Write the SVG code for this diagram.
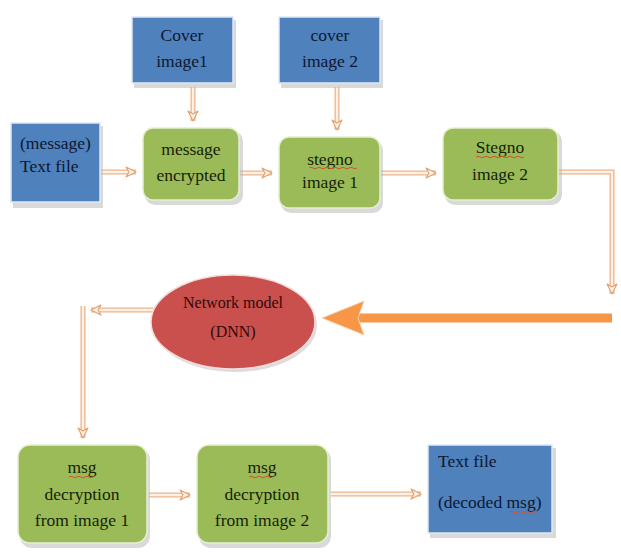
<svg xmlns="http://www.w3.org/2000/svg" width="621" height="556" viewBox="0 0 621 556">
<style>
  .blue{fill:#4f81bd;stroke:#dfe8f5;stroke-width:1.5}
  .green{fill:#9bbb59;stroke:#e6efd2;stroke-width:1.5}
  .shadow{fill:#b9b9b9;opacity:0.55}
  .t{font-family:"Liberation Serif","Times New Roman",serif;font-size:17.5px;text-anchor:middle}
  .tb{fill:#0d1730}
  .tg{fill:#151f06}
  .band{fill:none;stroke:#eeb389;stroke-width:5}
  .bandin{fill:none;stroke:#fdf1e8;stroke-width:2.4}
  .head{fill:#fdf1e8;stroke:#e0a070;stroke-width:1.1;stroke-linejoin:round}
  .sq{fill:none;stroke:#d9502a;stroke-width:1}
</style>
<defs>
  <marker id="ah" viewBox="0 0 12 12" refX="11" refY="6" markerWidth="12" markerHeight="12" markerUnits="userSpaceOnUse" orient="auto">
    <path d="M1,1 L11,6 L1,11 L4,6 Z" class="head"/>
  </marker>
</defs>
<rect width="621" height="556" fill="#ffffff"/>

<g id="connectors">
  <path class="band" d="M101,172 H136"/><path class="bandin" d="M101,172 H136" marker-end="url(#ah)"/>
  <path class="band" d="M193,87 V121"/><path class="bandin" d="M193,87 V121" marker-end="url(#ah)"/>
  <path class="band" d="M239,173 H272"/><path class="bandin" d="M239,173 H272" marker-end="url(#ah)"/>
  <path class="band" d="M337,87 V130"/><path class="bandin" d="M337,87 V130" marker-end="url(#ah)"/>
  <path class="band" d="M381,173 H436"/><path class="bandin" d="M381,173 H436" marker-end="url(#ah)"/>
  <path class="band" d="M559,172 H612 V294"/><path class="bandin" d="M559,172 H612 V294" marker-end="url(#ah)"/>
  <path d="M612,318 H358" stroke="#f79646" stroke-width="9" fill="none"/>
  <path d="M322,318 L364,301 L358,318 L364,335 Z" fill="#f79646" stroke="#fbd3b3" stroke-width="1"/>
  <path class="band" d="M153,310 H91"/><path class="bandin" d="M153,310 H91" marker-end="url(#ah)"/>
  <path class="band" d="M83,306 V438"/><path class="bandin" d="M83,306 V438" marker-end="url(#ah)"/>
  <path class="band" d="M149,495 H190"/><path class="bandin" d="M149,495 H190" marker-end="url(#ah)"/>
  <path class="band" d="M331,494 H421"/><path class="bandin" d="M331,494 H421" marker-end="url(#ah)"/>
</g>

<g id="cover1">
  <rect class="shadow" x="134" y="20" width="102" height="68"/>
  <rect class="blue" x="132" y="17" width="101" height="66"/>
  <text class="t tb" x="182" y="41">Cover</text>
  <text class="t tb" x="182" y="67">image1</text>
</g>
<g id="cover2">
  <rect class="shadow" x="281" y="20" width="102" height="68"/>
  <rect class="blue" x="279" y="17" width="101" height="66"/>
  <text class="t tb" x="330" y="41">cover</text>
  <text class="t tb" x="330" y="67">image 2</text>
</g>
<g id="textfile">
  <rect class="shadow" x="13" y="126" width="90" height="82"/>
  <rect class="blue" x="11" y="123" width="89" height="79"/>
  <text class="t tb" x="20" y="149" style="text-anchor:start">(message)</text>
  <text class="t tb" x="20" y="172" style="text-anchor:start">Text  file</text>
</g>
<g id="enc">
  <rect class="shadow" x="145" y="131" width="98" height="74" rx="10"/>
  <rect class="green" x="143" y="128" width="96" height="72" rx="10"/>
  <text class="t tg" x="191" y="155">message</text>
  <text class="t tg" x="191" y="181">encrypted</text>
</g>
<g id="stegno1">
  <rect class="shadow" x="281" y="140" width="102" height="73" rx="10"/>
  <rect class="green" x="279" y="137" width="101" height="71" rx="10"/>
  <text class="t tg" x="330" y="165">stegno</text>
  <path class="sq" d="M309,168 q2,-1.5 4,0 t4,0 t4,0 t4,0 t4,0 t4,0 t4,0 t4,0 t4,0 t4,0 t4,0 t4,0"/>
  <text class="t tg" x="330" y="188">image 1</text>
</g>
<g id="stegno2">
  <rect class="shadow" x="445" y="131" width="117" height="74" rx="10"/>
  <rect class="green" x="443" y="128" width="115" height="72" rx="10"/>
  <text class="t tg" x="500" y="153">Stegno</text>
  <path class="sq" d="M476,157 q2,-1.5 4,0 t4,0 t4,0 t4,0 t4,0 t4,0 t4,0 t4,0 t4,0 t4,0 t4,0 t4,0"/>
  <text class="t tg" x="500" y="180">image 2</text>
</g>
<g id="dnn">
  <ellipse cx="235" cy="325" rx="82" ry="47" fill="#b9b9b9" opacity="0.5"/>
  <ellipse cx="233" cy="322" rx="82" ry="47" fill="#c9504d" stroke="#f2dcdb" stroke-width="1.5"/>
  <text class="t" x="233" y="308" fill="#300a08" style="font-size:16px">Network model</text>
  <text class="t" x="233" y="337" fill="#300a08" style="font-size:16px">(DNN)</text>
</g>
<g id="msg1">
  <rect class="shadow" x="20" y="448" width="130" height="100" rx="12"/>
  <rect class="green" x="18" y="445" width="129" height="98" rx="12"/>
  <text class="t tg" x="82" y="473">msg</text>
  <path class="sq" d="M69,477 q2,-1.5 4,0 t4,0 t4,0 t4,0 t4,0 t4,0" stroke="#b07a20"/>
  <text class="t tg" x="82" y="500">decryption</text>
  <text class="t tg" x="82" y="526">from image  1</text>
</g>
<g id="msg2">
  <rect class="shadow" x="199" y="448" width="132" height="100" rx="12"/>
  <rect class="green" x="197" y="445" width="131" height="98" rx="12"/>
  <text class="t tg" x="262" y="473">msg</text>
  <path class="sq" d="M249,477 q2,-1.5 4,0 t4,0 t4,0 t4,0 t4,0 t4,0" stroke="#b07a20"/>
  <text class="t tg" x="262" y="500">decryption</text>
  <text class="t tg" x="262" y="526">from image 2</text>
</g>
<g id="decoded">
  <rect class="shadow" x="430" y="448" width="126" height="90"/>
  <rect class="blue" x="428" y="445" width="124" height="88"/>
  <text class="t tb" x="438" y="467" style="text-anchor:start">Text file</text>
  <text class="t tb" x="438" y="508" style="text-anchor:start">(decoded msg)</text>
  <path class="sq" d="M509,512 q2,-1.5 4,0 t4,0 t4,0 t4,0 t4,0 t4,0 t4,0"/>
</g>
</svg>
